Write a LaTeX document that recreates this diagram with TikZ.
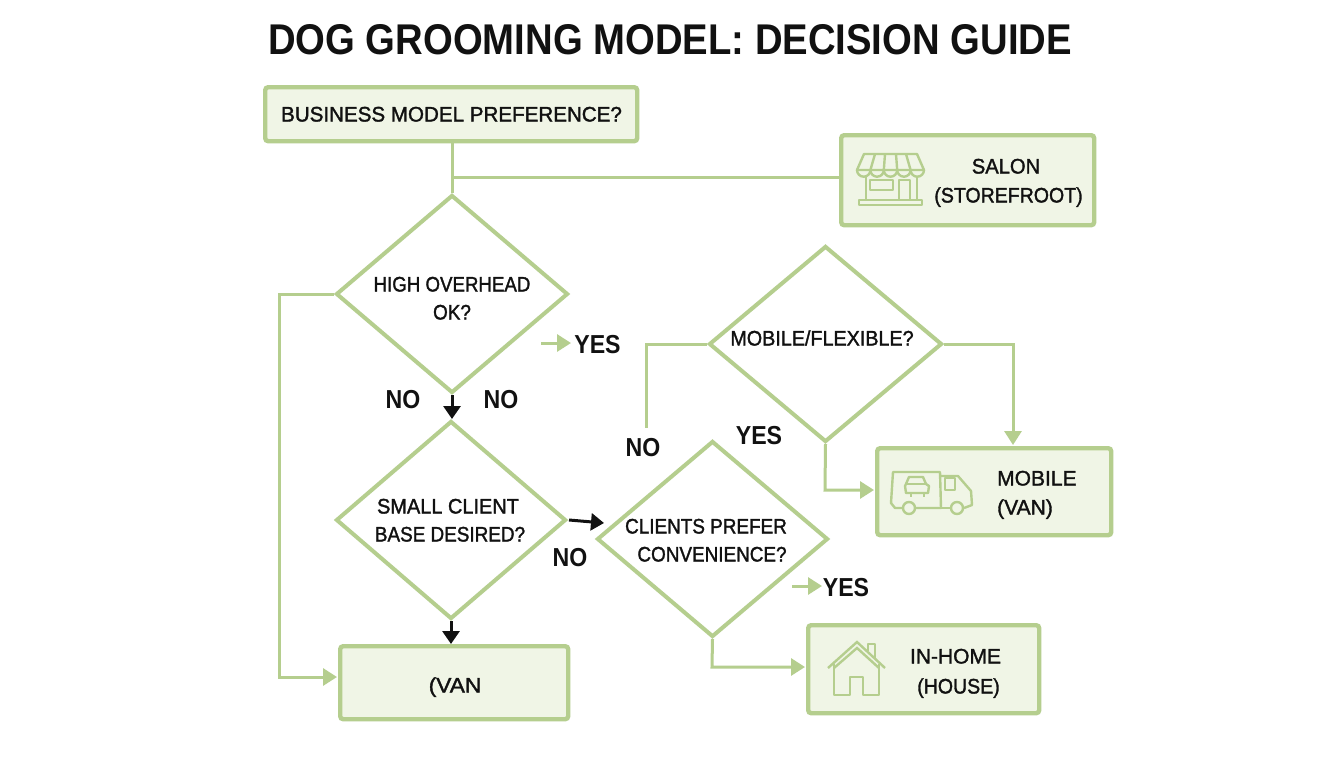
\documentclass[tikz,border=0pt]{standalone}
\usepackage{fontspec}
\setmainfont{Liberation Sans}
\newfontfamily\medfont[FakeBold=1.6]{Liberation Sans}
\newfontfamily\bigfont[FakeStretch=0.89]{Liberation Sans}
\usetikzlibrary{shapes.geometric,arrows.meta}
\definecolor{gline}{HTML}{B5CE8E}
\definecolor{gfill}{HTML}{F0F5E6}
\definecolor{ink}{HTML}{111111}
\newcommand{\hsc}[2]{\scalebox{#1}[1]{#2}}
\tikzset{
  x=1pt,y=-1pt,
  boxn/.style={draw=gline,fill=gfill,line width=4.4pt,rounded corners=3pt,inner sep=0pt,anchor=north west},
  dia/.style={draw=gline,line width=4pt,diamond,inner sep=0pt,line join=miter},
  conn/.style={draw=gline,line width=3pt,line join=miter},
  garrow/.style={conn,-{Triangle[length=14pt,width=17pt,fill=gline]}},
  barrow/.style={draw=ink,line width=3pt,-{Triangle[length=13pt,width=17pt]}},
  txt/.style={font=\medfont\fontsize{21}{21}\selectfont,text=ink,text height=15pt,text depth=0pt,inner sep=0pt},
  bigtxt/.style={font=\bigfont\bfseries\fontsize{26}{26}\selectfont,text=ink,text height=18.5pt,text depth=0pt,inner sep=0pt},
  icon/.style={draw=gline,line width=2.4pt,fill=none,line join=round},
}
\begin{document}
\begin{tikzpicture}
\useasboundingbox (0,0) rectangle (1344,768);
\fill[white] (0,0) rectangle (1344,768);
\node[font=\bigfont\bfseries\fontsize{43}{43}\selectfont,text=ink,inner sep=0pt] (title) at (670,40) {DOG GROOMING MODEL: DECISION GUIDE};

\node[boxn,minimum width=372pt,minimum height=54pt] (start) at (263,85) {};
\node[boxn,minimum width=253pt,minimum height=90pt] (salon) at (839,133) {};
\node[boxn,minimum width=234pt,minimum height=87pt] (mobile) at (875,446) {};
\node[boxn,minimum width=231pt,minimum height=88pt] (home) at (806,623) {};
\node[boxn,minimum width=228pt,minimum height=73pt] (van) at (338,644) {};

\node[dia,aspect=1.17,minimum width=232pt,minimum height=198pt] (d1) at (452,294) {};
\node[dia,aspect=1.16,minimum width=230pt,minimum height=198pt] (d2) at (451,520) {};
\node[dia,aspect=1.19,minimum width=233pt,minimum height=196pt] (d3) at (825.5,344) {};
\node[dia,aspect=1.18,minimum width=231pt,minimum height=196pt] (d4) at (712.5,539) {};

\coordinate (branch) at (452,177);
\coordinate (noend) at (646,428);
\coordinate (ya1) at (541,343);
\coordinate (ya2) at (571,343);
\coordinate (yb1) at (792,586);
\coordinate (yb2) at (822,586);
\coordinate (ka1) at (452,395);
\coordinate (ka2) at (452,419);
\coordinate (kb1) at (569,520);
\coordinate (kb2) at (604,523);
\coordinate (vanin) at (337,677);

\draw[conn] (start.south -| branch) -- (d1.north);
\draw[conn] (branch) -- (branch -| salon.west);
\draw[garrow] (d1.west) -- (279,294) |- (vanin);
\draw[barrow] (ka1) -- (ka2);
\draw[barrow] (d2.south) -- (van.north -| d2.south);
\draw[barrow] (kb1) -- (kb2);
\draw[conn] (d3.west) -- (noend |- d3.west) -- (noend);
\draw[garrow] (d3.east) -- (1013,344) -- (1013,445);
\draw[garrow] (d3.south) -- (825,490) -- (874,490);
\draw[garrow] (d4.south) -- (712,667) -- (805,667);
\draw[garrow] (ya1) -- (ya2);
\draw[garrow] (yb1) -- (yb2);

% labels
\node[txt] (t0) at (451.5,114) {\hsc{0.98}{BUSINESS MODEL PREFERENCE?}};
\node[txt] (t1) at (452,284) {\hsc{0.89}{HIGH OVERHEAD}};
\node[txt] (t2) at (452,312) {\hsc{0.9}{OK?}};
\node[txt] (t3) at (822,338) {\hsc{0.94}{MOBILE/FLEXIBLE?}};
\node[txt] (t4) at (448,506) {\hsc{0.95}{SMALL CLIENT}};
\node[txt] (t5) at (450,534) {\hsc{0.9}{BASE DESIRED?}};
\node[txt] (t6) at (706,526) {\hsc{0.9}{CLIENTS PREFER}};
\node[txt] (t7) at (712,554) {\hsc{0.9}{CONVENIENCE?}};
\node[txt] (t8) at (1006,166) {\hsc{0.96}{SALON}};
\node[txt] (t9) at (1008.5,195) {\hsc{0.93}{(STOREFROOT)}};
\node[txt,anchor=west] (t10) at (997,478) {MOBILE};
\node[txt,anchor=west] (t11) at (997,507) {(VAN)};
\node[txt] (t12) at (955.5,656) {IN-HOME};
\node[txt] (t13) at (958.5,686) {\hsc{0.93}{(HOUSE)}};
\node[txt] (t14) at (455,685) {\hsc{1.08}{(VAN}};

\node[bigtxt] (l1) at (597.5,344) {YES};
\node[bigtxt] (l2) at (403,399) {NO};
\node[bigtxt] (l3) at (501,399) {NO};
\node[bigtxt] (l4) at (643,447) {NO};
\node[bigtxt] (l5) at (759,435) {YES};
\node[bigtxt] (l6) at (570,557) {NO};
\node[bigtxt] (l7) at (846,587) {YES};

% storefront icon
\draw[icon] (864,154) -- (917,154) -- (924,170) -- (857,170) -- cycle;
\draw[icon] (875,154) -- (870.4,170) (885,154) -- (883.8,170) (896,154) -- (897.2,170) (906,154) -- (910.6,170);
\draw[icon] (857,170) arc[start angle=180,end angle=0,radius=6.7]
  arc[start angle=180,end angle=0,radius=6.7]
  arc[start angle=180,end angle=0,radius=6.7]
  arc[start angle=180,end angle=0,radius=6.7]
  arc[start angle=180,end angle=0,radius=6.7];
\draw[icon] (866,177) -- (866,200) (917,177) -- (917,200);
\draw[icon] (870,180) rectangle (893,190);
\draw[icon] (899,180) rectangle (910,200);
\draw[icon] (859,200) rectangle (922,205);

% van icon
\draw[icon] (903,508) -- (895,508) -- (891,503) -- (893,472) -- (940,472) -- (941,508) -- (915,508);
\draw[icon] (941,476) -- (958,476) -- (971,491) -- (972,505) -- (964,508);
\draw[icon] (941,508) -- (951,508);
\draw[icon] (945,478) -- (955,478) -- (955,490) -- (945,490) -- cycle;
\draw[icon] (909,508) circle[radius=6];
\draw[icon] (957,508) circle[radius=6];
\draw[icon] (906,484) -- (909,477) -- (923,477) -- (926,484) -- (929,486) -- (928,493) -- (906,493) -- (905,486) -- cycle;
\draw[icon] (906,484) -- (926,484);
\draw[icon] (911,494) -- (911,497) (924,494) -- (924,497);

% house icon
\draw[icon,line join=miter] (828,668) -- (857,642) -- (885,668);
\draw[icon,line join=miter] (834,668) -- (857,648) -- (879,668);
\draw[icon] (868,651) -- (868,644) -- (875,644) -- (875,658);
\draw[icon] (834,664) -- (834,695) -- (850,695) -- (850,677) -- (863,677) -- (863,695) -- (879,695) -- (879,664);
\end{tikzpicture}
\end{document}
